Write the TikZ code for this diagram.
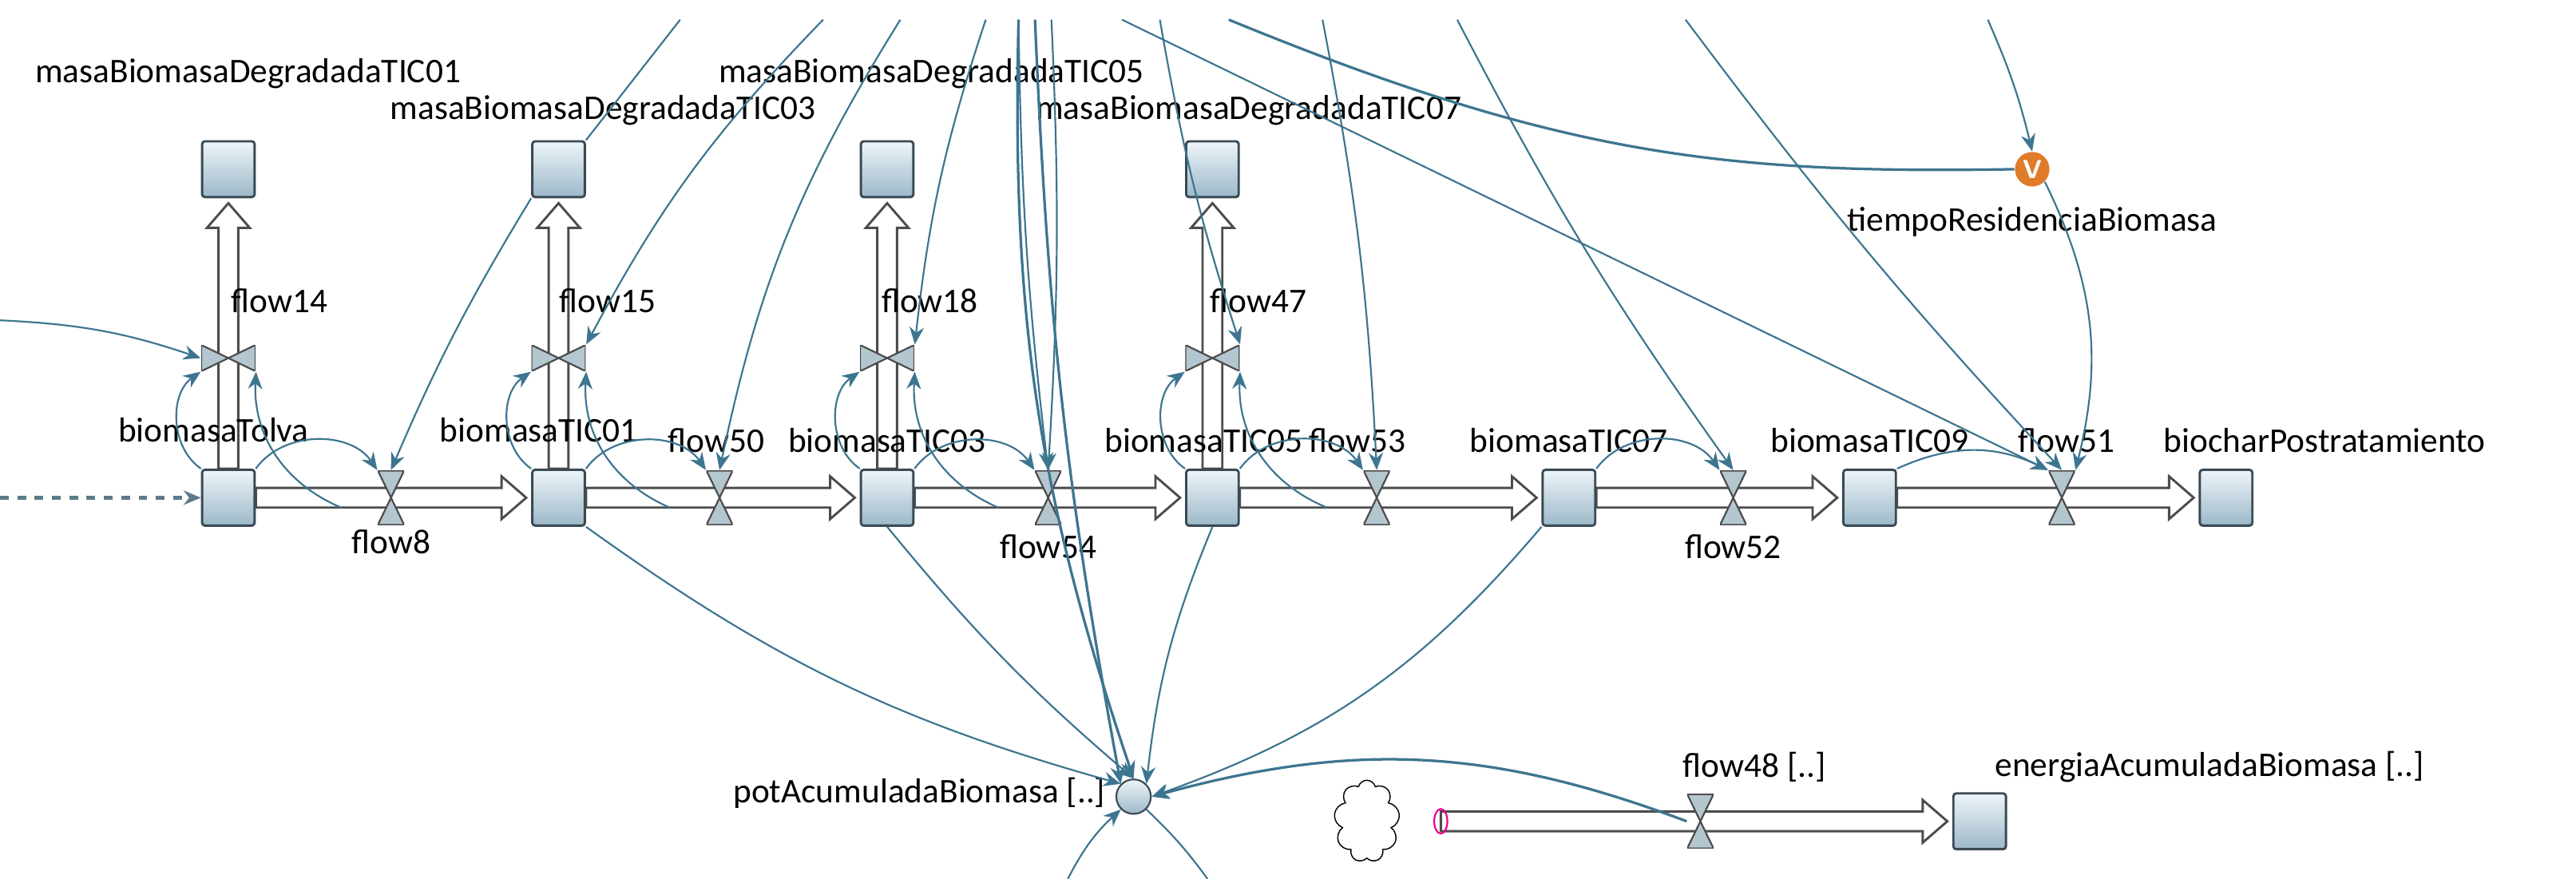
\documentclass[tikz,border=0pt]{standalone}
\usepackage{fontspec}
\setmainfont{Carlito}
\usepackage{tikz}
\usetikzlibrary{calc, backgrounds, arrows.meta, shapes.symbols, shapes.geometric, positioning}
\definecolor{linkc}{HTML}{3D7590}
\definecolor{stockb}{HTML}{3A4A55}
\definecolor{stocktop}{HTML}{EEF5F9}
\definecolor{stockbot}{HTML}{9CB8C8}
\definecolor{valvec}{HTML}{B4C6D0}
\definecolor{auxo}{HTML}{E07B2A}
% horizontal and vertical material pipes
\newcommand{\hpipe}[2]{\draw[pipe] ($(#1)+(0,-6)$) -- ($(#2)+(-18,-6)$) -- ($(#2)+(-18,-13)$) -- ($(#2)+(-3,0)$) -- ($(#2)+(-18,13)$) -- ($(#2)+(-18,6)$) -- ($(#1)+(0,6)$) -- cycle;}
\newcommand{\vpipe}[2]{\draw[pipe] ($(#1)+(-6,0)$) -- ($(#2)+(-6,18)$) -- ($(#2)+(-13,18)$) -- ($(#2)+(0,3)$) -- ($(#2)+(13,18)$) -- ($(#2)+(6,18)$) -- ($(#1)+(6,0)$) -- cycle;}
\begin{document}
\begin{tikzpicture}[x=0.02cm, y=-0.02cm, font=\fontsize{12}{14}\selectfont,
  stock/.style={draw=stockb, line width=0.8pt, rounded corners=1pt, top color=stocktop, bottom color=stockbot, minimum width=0.64cm, minimum height=0.68cm, inner sep=0pt},
  valveH/.style={minimum width=0.32cm, minimum height=0.66cm, inner sep=0pt, path picture={\filldraw[fill=valvec, draw=gray!60!black, line width=0.6pt] (path picture bounding box.north west) -- (path picture bounding box.north east) -- (path picture bounding box.center) -- cycle (path picture bounding box.south west) -- (path picture bounding box.south east) -- (path picture bounding box.center) -- cycle;}},
  valveV/.style={minimum width=0.66cm, minimum height=0.32cm, inner sep=0pt, path picture={\filldraw[fill=valvec, draw=gray!60!black, line width=0.6pt] (path picture bounding box.north west) -- (path picture bounding box.south west) -- (path picture bounding box.center) -- cycle (path picture bounding box.north east) -- (path picture bounding box.south east) -- (path picture bounding box.center) -- cycle;}},
  pipe/.style={draw=black!70, fill=white, line width=0.8pt},
  link/.style={draw=linkc, line width=0.6pt, -{Stealth[length=6pt,width=5pt]}},
  plain/.style={draw=linkc, line width=0.6pt},
  txt/.style={inner sep=1pt}]
\useasboundingbox (0,0) rectangle (1568,535);

% stocks
\node[stock] (tolva) at (139,303) {};
\node[stock] (tic01) at (340,303) {};
\node[stock] (tic03) at (540,303) {};
\node[stock] (tic05) at (738,303) {};
\node[stock] (tic07) at (955,303) {};
\node[stock] (tic09) at (1138,303) {};
\node[stock] (biochar) at (1355,303) {};
\node[stock] (m01) at (139,103) {};
\node[stock] (m03) at (340,103) {};
\node[stock] (m05) at (540,103) {};
\node[stock] (m07) at (738,103) {};
\node[stock] (energia) at (1205,500) {};

% valves
\node[valveH] (f8) at (238,303) {};
\node[valveH] (f50) at (438,303) {};
\node[valveH] (f54) at (638,303) {};
\node[valveH] (f53) at (838,303) {};
\node[valveH] (f52) at (1055,303) {};
\node[valveH] (f51) at (1255,303) {};
\node[valveH] (f48) at (1035,500) {};
\node[valveV] (f14) at (139,218) {};
\node[valveV] (f15) at (340,218) {};
\node[valveV] (f18) at (540,218) {};
\node[valveV] (f47) at (738,218) {};

% auxiliaries and source
\node[circle, draw=stockb, line width=0.6pt, top color=stocktop, bottom color=stockbot, minimum size=0.42cm, inner sep=0pt] (pot) at (690,485) {};
\node[circle, fill=auxo, minimum size=0.42cm, inner sep=0pt, text=white, font=\sffamily\bfseries\small] (tres) at (1237,103) {V};
\node[cloud, draw, cloud puffs=9, aspect=0.8, minimum width=0.8cm, minimum height=1.0cm, inner sep=0pt] (src) at (832,500) {};
\node[ellipse, draw=magenta, line width=0.6pt, minimum width=0.16cm, minimum height=0.3cm, inner sep=0pt] (srcend) at (877,500) {};

% pipes
\begin{scope}[on background layer]
\hpipe{tolva.east}{tic01.west}
\hpipe{tic01.east}{tic03.west}
\hpipe{tic03.east}{tic05.west}
\hpipe{tic05.east}{tic07.west}
\hpipe{tic07.east}{tic09.west}
\hpipe{tic09.east}{biochar.west}
\hpipe{srcend.center}{energia.west}
\vpipe{tolva.north}{m01.south}
\vpipe{tic01.north}{m03.south}
\vpipe{tic03.north}{m05.south}
\vpipe{tic05.north}{m07.south}
\end{scope}

% labels
\node[txt] (lm01) at (151,45) {masaBiomasaDegradadaTIC01};
\node[txt] (lm03) at (367,67) {masaBiomasaDegradadaTIC03};
\node[txt] (lm05) at (567,45) {masaBiomasaDegradadaTIC05};
\node[txt] (lm07) at (760,67) {masaBiomasaDegradadaTIC07};
\node[txt] (lf14) at (170,183) {flow14};
\node[txt] (lf15) at (370,183) {flow15};
\node[txt] (lf18) at (566,183) {flow18};
\node[txt] (lf47) at (766,183) {flow47};
\node[txt] (ltolva) at (130,262) {biomasaTolva};
\node[txt] (ltic01) at (328,262) {biomasaTIC01};
\node[txt] (lf50) at (436,268) {flow50};
\node[txt] (ltic03) at (540,268) {biomasaTIC03};
\node[txt, anchor=east] (ltic05) at (795,268) {biomasaTIC05};
\node[txt, anchor=west] (lf53) at (795,268) {flow53};
\node[txt] (ltic07) at (955,268) {biomasaTIC07};
\node[txt] (ltic09) at (1138,268) {biomasaTIC09};
\node[txt] (lf51) at (1258,268) {flow51};
\node[txt] (lbiochar) at (1415,268) {biocharPostratamiento};
\node[txt] (lf8) at (238,330) {flow8};
\node[txt] (lf54) at (638,333) {flow54};
\node[txt] (lf52) at (1055,333) {flow52};
\node[txt] (ltres) at (1237,135) {tiempoResidenciaBiomasa};
\node[txt, anchor=east] (lpot) at (675,483) {potAcumuladaBiomasa [..]};
\node[txt] (lf48) at (1068,467) {flow48 [..]};
\node[txt] (lenergia) at (1345,467) {energiaAcumuladaBiomasa [..]};

% free ends off the picture
\coordinate (inL) at (0,195);
\coordinate (inD) at (0,303);
\coordinate (t1) at (414,12);
\coordinate (t2) at (501,12);
\coordinate (t3) at (548,12);
\coordinate (t4) at (600,12);
\coordinate (t5) at (620,12);
\coordinate (t6) at (630,12);
\coordinate (t7) at (640,12);
\coordinate (t8) at (683,12);
\coordinate (t9) at (706,12);
\coordinate (t10) at (748,12);
\coordinate (t11) at (805,12);
\coordinate (t12) at (887,12);
\coordinate (t13) at (1026,12);
\coordinate (t14) at (1210,12);
\coordinate (b1) at (650,535);
\coordinate (b2) at (735,535);

% links
\draw[link] (inL) to[bend left=8] (f14.west);
\draw[link, draw=linkc!50!gray, dashed, line width=1.2pt] (inD) -- (tolva.west);
\foreach \s/\v/\h in {tolva/f14/f8, tic01/f15/f50, tic03/f18/f54, tic05/f47/f53}{
  \draw[link] (\s.north west) to[bend left=55] (\v.south west);
  \draw[link] ($(\h.west)+(-22,6)$) to[bend left=35] (\v.south east);
  \draw[link] (\s.north east) to[bend left=55] (\h.north west);
}
\draw[link] (tic07.north east) to[bend left=55] (f52.north west);
\draw[link] (tic09.north east) to[bend left=25] (f51.north west);
\draw[link] (m03.south west) to[bend right=4] (f8.north);
\draw[plain] (t1) -- (m03.north east);
\draw[link] (t2) to[bend right=8] (f15.north east);
\draw[link] (t3) to[bend right=10] (f50.north);
\draw[link] (t4) to[bend right=6] (f18.north east);
\draw[link] (t5) to[bend right=3] (f54.north);
\draw[link] (t7) to[bend left=3] (f54.north);
\draw[link, line width=0.9pt] (t6) to[bend right=4] (pot.north west);
\draw[link, line width=0.9pt] (t5) to[bend right=10] (pot.north);
\draw[link] (t9) to[bend right=4] (f47.north east);
\draw[link] (t8) -- (f51.north west);
\draw[link] (t11) to[bend left=4] (f53.north);
\draw[link] (t12) to[bend right=4] (f52.north);
\draw[link] (t13) to[bend right=3] (f51.north);
\draw[link] (t14) to[bend left=5] (tres.north);
\draw[link] (tres.south east) to[bend left=20] (f51.north east);
\draw[plain, line width=0.9pt] (tres.west) .. controls (1050,106) and (950,95) .. (t10);
\draw[link] (tic01.south east) to[bend right=10] (pot.north west);
\draw[link] (tic03.south) to[bend right=5] (pot.north);
\draw[link] (tic05.south) to[bend right=8] (pot.north east);
\draw[link] (tic07.south west) to[bend left=15] (pot.east);
\draw[link, line width=0.9pt] (f48.west) to[bend right=18] (pot.east);
\draw[link] (b1) to[bend left=10] (pot.south west);
\draw[plain] (pot.south east) to[bend left=5] (b2);
\end{tikzpicture}
\end{document}
